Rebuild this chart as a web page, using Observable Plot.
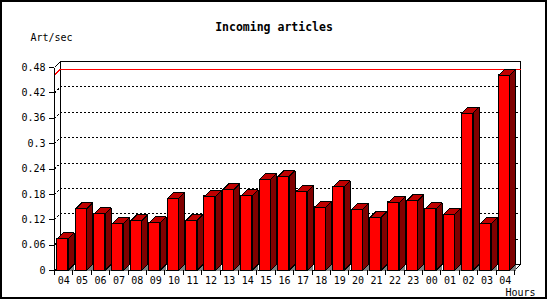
<!DOCTYPE html>
<html><head><meta charset="utf-8">
<script src="https://cdn.jsdelivr.net/npm/d3@7"></script>
<script src="https://cdn.jsdelivr.net/npm/@observablehq/plot@0.6"></script>
<style>
html,body{margin:0;padding:0;background:#fff;}
#wrap{position:relative;width:550px;height:300px;overflow:hidden;}
#border{position:absolute;left:0;top:0;width:547px;height:299px;box-sizing:border-box;border:2px solid #000;pointer-events:none;}
</style></head>
<body><div id="wrap"><div id="chart"></div><div id="border"></div></div>
<script>
const title = "Incoming articles";
const yLabel = "Art/sec";
const xLabel = "Hours";
const hours = ["04","05","06","07","08","09","10","11","12","13","14","15","16","17","18","19","20","21","22","23","00","01","02","03","04"];
const rates = [0.075,0.146,0.134,0.111,0.118,0.113,0.170,0.118,0.175,0.191,0.177,0.215,0.222,0.187,0.149,0.198,0.144,0.125,0.161,0.165,0.146,0.132,0.372,0.111,0.462];
const yTicks = [0,0.06,0.12,0.18,0.24,0.3,0.36,0.42,0.48];

const N = hours.length;
const W = 550, H = 300, mL = 54, mR = 36, mT = 67, mB = 30;
const yMax = 0.48;
const stepPx = (W - mL - mR) / N;
const pxPerUnit = (H - mT - mB) / yMax;
const depthX = 6 / stepPx, depthY = 6 / pxPerUnit;
const faceL = 2.7 / stepPx, faceR = 13.7 / stepPx;

const bars = rates.map((v, i) => ({i, v, xl: i + faceL, xr: i + faceR}));
const poly = (pts, id) => pts.map(([x, y]) => ({x, y, id}));
const sides = bars.flatMap(b => poly([[b.xr,0],[b.xr+depthX,depthY],[b.xr+depthX,b.v+depthY],[b.xr,b.v]], b.i));
const tops = bars.flatMap(b => poly([[b.xl,b.v],[b.xr,b.v],[b.xr+depthX,b.v+depthY],[b.xl+depthX,b.v+depthY]], b.i));
const shadows = bars.flatMap(b => poly([[b.xr,0],[b.xr+depthX,depthY],[b.xr+depthX,0]], b.i));

const backFrame = poly([[depthX,depthY],[N+depthX,depthY],[N+depthX,yMax+depthY],[depthX,yMax+depthY]], "back");
const edges = [
  ...poly([[0,yMax],[0,0],[N,0],[N+depthX,depthY]], "e1"),
  ...poly([[0,yMax],[depthX,yMax+depthY]], "e2"),
  ...poly([[0,0],[depthX,depthY]], "e3")
];
const grid = yTicks.filter(t => t > 0 && t < yMax).flatMap(t => poly([[0,t],[depthX,t+depthY],[N+depthX,t+depthY]], t));
const maxV = d3.max(rates);
const maxLine = poly([[0,maxV],[depthX,maxV+depthY],[N+depthX,maxV+depthY]], "max");

const chart = Plot.plot({
  width: W, height: H, marginLeft: mL, marginRight: mR, marginTop: mT, marginBottom: mB,
  x: {type: "linear", domain: [0, N], axis: null},
  y: {type: "linear", domain: [0, yMax], axis: null},
  style: {fontFamily: "DejaVu Sans Mono", fontSize: "10px", background: "#fff", color: "#000"},
  marks: [
    Plot.line(backFrame, {x: "x", y: "y", z: "id", curve: "linear-closed", stroke: "#000", strokeWidth: 1, fill: "#fff"}),
    Plot.line(grid, {x: "x", y: "y", z: "id", stroke: "#000", strokeWidth: 1, strokeDasharray: "2,2", strokeLinecap: "butt"}),
    Plot.line(maxLine, {x: "x", y: "y", z: "id", stroke: "#ff0000", strokeWidth: 1}),
    Plot.line(edges, {x: "x", y: "y", z: "id", stroke: "#000", strokeWidth: 1, strokeLinecap: "butt", strokeLinejoin: "miter"}),
    Plot.line(shadows, {x: "x", y: "y", z: "id", curve: "linear-closed", fill: "#808080", stroke: "none"}),
    Plot.rect(bars, {x1: "xl", x2: "xr", y1: 0, y2: "v", fill: "#ff0000", stroke: "#000", strokeWidth: 1}),
    Plot.line(sides, {x: "x", y: "y", z: "id", curve: "linear-closed", fill: "#800000", stroke: "#000", strokeWidth: 1, strokeLinejoin: "miter"}),
    Plot.line(tops, {x: "x", y: "y", z: "id", curve: "linear-closed", fill: "#c00000", stroke: "#000", strokeWidth: 1, strokeLinejoin: "miter"}),
    Plot.axisY(yTicks, {anchor: "left", tickSize: 5, tickPadding: 4, tickFormat: d => String(d), label: null}),
    Plot.axisX(d3.range(N + 1), {anchor: "bottom", tickSize: 5, tickFormat: () => "", label: null}),
    Plot.axisX(d3.range(N).map(i => i + 0.5), {anchor: "bottom", tickSize: 0, tickPadding: 6, tickFormat: d => hours[Math.floor(d)], label: null}),
    Plot.text([title], {text: d => d, frameAnchor: "top", dx: -10.5, dy: -40, fontWeight: "bold", fontSize: 11.5, lineAnchor: "middle"}),
    Plot.text([yLabel], {text: d => d, frameAnchor: "top-left", dx: -24, dy: -30.2, textAnchor: "start", lineAnchor: "middle"}),
    Plot.text([xLabel], {text: d => d, frameAnchor: "bottom-right", dx: -9, dy: 22.5, textAnchor: "start", lineAnchor: "middle"})
  ]
});
chart.style.shapeRendering = "crispEdges";
document.getElementById("chart").appendChild(chart);
</script>
</body></html>
